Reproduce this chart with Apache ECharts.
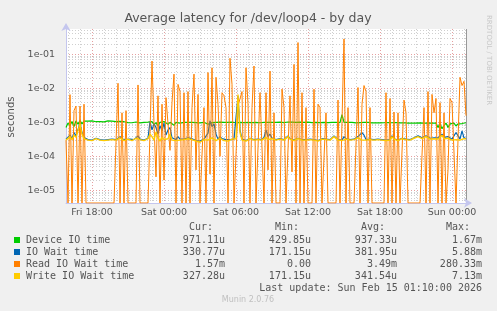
<!DOCTYPE html>
<html><head><meta charset="utf-8">
<script src="https://cdn.jsdelivr.net/npm/echarts@6/dist/echarts.min.js"></script>
<style>html,body{margin:0;padding:0;background:#f0f0f0;}#c{width:497px;height:311px;}</style>
</head><body><div id="c"></div>
<script>
// time axis: hours since Fri 00:00
const startHour = 15 + 50/60;   // Fri 15:50
const stepHours = 10/60;        // 10-minute samples
const endHour = 49 + 10/60;     // Sun 01:10
const majorHours = [18, 24, 30, 36, 42, 48];
const timeLabels = ['Fri 18:00', 'Sat 00:00', 'Sat 06:00', 'Sat 12:00', 'Sat 18:00', 'Sun 00:00'];
const yDecades = [-5, -4, -3, -2, -1];
const yTickLabels = ['1e-05', '1e-04', '1e-03', '1e-02', '1e-01'];
const yMinLog = -5.37, yMaxLog = -0.26;

// values in microseconds
const deviceUs = [
 700,950,800,1050,750,1100,880,1120,900,1080,
 1050,1080,1020,1100,1060,1040,1090,1050,1070,1030,
 1060,1100,1040,1080,1150,1050,1020,1060,1000,1040,
 1010,980,1000,970,990,1020,980,960,1000,990,
 980,1010,900,1050,850,980,800,1000,900,1050,
 950,870,1000,960,820,1000,980,950,1010,990,
 980,1000,970,990,1010,980,1000,960,990,1000,
 1010,880,1000,980,950,1000,990,1010,970,1000,
 990,1000,980,1010,990,970,1030,1000,990,980,
 1000,990,1010,980,1000,990,1000,970,1010,990,
 980,1000,1010,990,970,1000,990,1010,1000,980,
 1000,1020,990,1010,1100,1000,980,1010,990,1000,
 990,1010,1000,980,1000,990,1010,980,1000,990,
 1000,980,1000,990,1010,1000,1050,980,1670,1000,
 990,1000,980,1000,990,960,1000,980,950,990,
 970,990,980,960,990,970,980,960,990,970,
 960,980,950,970,960,980,940,960,950,970,
 960,950,970,940,960,950,940,960,950,940,
 930,950,900,940,920,950,700,900,650,800,
 950,700,900,850,950,780,900,960,920,900,
 971
];
const ioWaitUs = [
 320,360,420,330,500,400,360,950,500,360,
 330,310,320,300,310,340,330,310,320,300,
 290,310,330,320,300,310,340,380,320,300,
 310,330,320,300,310,350,400,320,310,300,
 320,340,1050,600,900,700,450,800,560,950,
 420,600,700,350,400,310,380,320,300,320,
 310,350,400,330,300,290,310,280,300,320,
 330,480,1100,750,900,450,320,380,330,300,
 310,290,310,340,320,350,5880,600,320,300,
 290,310,340,320,310,300,320,340,310,360,
 600,380,450,340,320,310,300,330,320,310,
 340,400,330,310,300,320,340,330,310,300,
 310,330,320,300,310,320,290,310,330,310,
 320,300,310,330,400,350,310,320,300,380,
 330,320,310,300,320,340,380,340,500,420,
 310,300,320,330,310,300,320,340,310,320,
 300,280,310,400,330,310,300,320,340,310,
 320,300,310,330,350,380,400,370,350,380,
 400,360,340,320,350,380,350,320,450,360,
 330,380,350,320,360,500,450,320,560,350,
 331
];
const readUs = [
 300,0,6500,0,2200,3000,0,3000,0,3400,
 0,0,0,0,0,0,0,0,0,0,
 0,0,0,0,0,0,14000,0,1900,0,
 2200,0,0,0,0,0,12500,0,0,0,
 0,0,0,63000,900,25,6000,0,3400,20,
 5300,4800,150,3800,26000,0,13000,8000,0,7400,
 0,8000,0,2700,26000,40,6600,0,0,2700,
 0,29000,30,40000,0,21000,3400,100,7400,6000,
 2700,0,76000,13000,0,0,3000,2700,8000,0,
 40000,3400,0,2700,45000,0,0,7400,6600,0,
 7400,40,32000,0,1900,0,0,0,9400,2700,
 0,0,6000,35,50000,0,220000,0,7400,0,
 2700,0,0,0,9400,0,3400,2700,0,0,
 1900,0,0,0,0,0,4500,0,0,280330,
 0,2700,0,0,0,0,10500,0,3400,12000,
 8000,0,2700,0,0,0,0,0,0,0,
 7400,0,5000,0,2000,0,1900,0,0,4500,
 1900,0,0,0,0,0,0,0,0,2700,
 0,8000,0,6600,1900,5000,0,3800,0,1900,
 0,40,5000,3800,3400,0,0,21000,12000,16000,
 1570
];
const writeUs = [
 300,340,380,310,420,360,330,900,450,330,
 320,300,310,290,300,330,320,300,310,290,
 280,300,320,310,290,300,330,350,310,290,
 300,320,310,290,300,340,360,310,300,290,
 310,330,450,380,300,520,340,280,360,310,
 290,330,450,300,310,290,320,300,290,310,
 300,330,360,310,290,280,300,260,290,310,
 320,300,330,350,310,290,300,340,310,290,
 300,280,300,320,300,330,6500,500,300,290,
 280,300,330,310,300,290,310,320,300,340,
 360,310,300,330,310,300,290,320,310,300,
 330,380,320,300,290,310,330,320,300,290,
 300,320,310,290,300,310,280,300,320,300,
 310,290,300,320,380,340,300,310,290,300,
 320,310,300,290,310,330,350,320,300,310,
 300,290,310,320,300,290,310,330,300,310,
 290,270,300,380,320,300,290,310,330,300,
 310,290,300,320,340,360,380,350,330,360,
 380,340,320,300,330,350,320,300,420,330,
 310,340,320,300,330,310,340,300,320,330,
 327
];
const seriesNames = ['Device IO time', 'IO Wait time', 'Read IO Wait time', 'Write IO Wait time'];
const seriesColors = ['#00cc00', '#0066b3', '#ff8000', '#ffcc00'];
const legendCur = ['971.11u', '330.77u', '1.57m', '327.28u'];
const legendMin = ['429.85u', '171.15u', '0.00', '171.15u'];
const legendAvg = ['937.33u', '381.95u', '3.49m', '341.54u'];
const legendMax = ['1.67m', '5.88m', '280.33m', '7.13m'];

const minorHours = [];
for (let h = 16; h <= 49; h++) if (majorHours.indexOf(h) < 0) minorHours.push(h);
const minorLogs = [];
for (let d = -6; d <= -1; d++) for (let k = 2; k <= 9; k++) {
  const v = d + Math.log10(k);
  if (v > yMinLog && v < yMaxLog) minorLogs.push(v);
}
function toPts(arr) {
  return arr.map((v, i) => [startHour + i * stepHours, v > 0 ? Math.log10(v * 1e-6) : yMinLog]);
}
const allData = [deviceUs, ioWaitUs, readUs, writeUs];
const lineWidths = [1.2, 1.2, 1, 1.4];

const FONT = 'DejaVu Sans';
const gridColorMinor = '#cfcfcf';
const gridColorMajor = '#e6a0a0';
const axisColor = '#c4c6ee';

const graphics = [];
graphics.push({type:'text', x:248, y:19, style:{text:'Average latency for /dev/loop4 - by day', font:'12.5px "DejaVu Sans"', fill:'#555', align:'center', verticalAlign:'middle'}});
graphics.push({type:'text', x:11, y:117, rotation:Math.PI/2, style:{text:'seconds', font:'10px "DejaVu Sans"', fill:'#555', align:'center', verticalAlign:'middle'}});
graphics.push({type:'text', x:489, y:15, rotation:-Math.PI/2, style:{text:'RRDTOOL / TOBI OETIKER', font:'7px "DejaVu Sans"', fill:'#c8c8c8', align:'left', verticalAlign:'middle'}});
graphics.push({type:'line', shape:{x1:466.5, y1:29, x2:466.5, y2:203}, style:{stroke:'#999', lineWidth:1}, z:-1});
const colX = [225, 311, 397, 482];
const headers = ['Cur:', 'Min:', 'Avg:', 'Max:'];
headers.forEach((h, j) => graphics.push({type:'text', x:colX[j] - 12, y:227, style:{text:h, font:'10px "DejaVu Sans Mono"', fill:'#555', align:'right', verticalAlign:'middle'}}));
const rowY = [240, 252, 264, 276];
seriesNames.forEach((n, r) => {
  graphics.push({type:'rect', shape:{x:14, y:rowY[r]-3, width:6, height:6}, style:{fill:seriesColors[r]}});
  graphics.push({type:'text', x:26, y:rowY[r], style:{text:n, font:'10px "DejaVu Sans Mono"', fill:'#555', align:'left', verticalAlign:'middle'}});
  [legendCur, legendMin, legendAvg, legendMax].forEach((col, j) => {
    graphics.push({type:'text', x:colX[j], y:rowY[r], style:{text:col[r], font:'10px "DejaVu Sans Mono"', fill:'#555', align:'right', verticalAlign:'middle'}});
  });
});
graphics.push({type:'text', x:482, y:288, style:{text:'Last update: Sun Feb 15 01:10:00 2026', font:'10px "DejaVu Sans Mono"', fill:'#555', align:'right', verticalAlign:'middle'}});
graphics.push({type:'text', x:248, y:300, style:{text:'Munin 2.0.76', font:'8px "DejaVu Sans"', fill:'#c0c0c0', align:'center', verticalAlign:'middle'}});

const option = {
  backgroundColor: '#f0f0f0',
  animation: false,
  grid: {left:66, right:31, top:29, bottom:108, show:true, backgroundColor:'#ffffff', borderWidth:0},
  xAxis: [
    {type:'value', min:startHour, max:endHour, position:'bottom', axisLine:{show:false}, axisLabel:{show:false},
     axisTick:{show:false, customValues:minorHours},
     splitLine:{show:true, lineStyle:{color:gridColorMinor, type:[1,2], width:1}}},
    {type:'value', min:startHour, max:endHour, position:'bottom',
     axisLine:{show:true, onZero:false, lineStyle:{color:axisColor, width:1}, symbol:['none','arrow'], symbolSize:[7,8], symbolOffset:[0,6]},
     axisTick:{show:false, customValues:majorHours},
     axisLabel:{customValues:majorHours, margin:5, color:'#555', fontFamily:FONT, fontSize:9.5,
       formatter:(v) => { const k = majorHours.indexOf(Math.round(v)); return k >= 0 ? timeLabels[k] : ''; }},
     splitLine:{show:true, lineStyle:{color:gridColorMajor, type:[1,2], width:1}}}
  ],
  yAxis: [
    {type:'value', min:yMinLog, max:yMaxLog, position:'left', axisLine:{show:false}, axisLabel:{show:false},
     axisTick:{show:false, customValues:minorLogs},
     splitLine:{show:true, lineStyle:{color:gridColorMinor, type:[1,2], width:1}}},
    {type:'value', min:yMinLog, max:yMaxLog, position:'left',
     axisLine:{show:true, onZero:false, lineStyle:{color:axisColor, width:1}, symbol:['none','arrow'], symbolSize:[7,8], symbolOffset:[0,6]},
     axisTick:{show:false, customValues:yDecades},
     axisLabel:{customValues:yDecades, margin:11, color:'#555', fontFamily:FONT, fontSize:9.5,
       formatter:(v) => { const k = yDecades.indexOf(Math.round(v)); return k >= 0 ? yTickLabels[k] : ''; }},
     splitLine:{show:true, lineStyle:{color:gridColorMajor, type:[1,2], width:1}}}
  ],
  series: allData.map((arr, k) => ({
    name: seriesNames[k], type:'line', xAxisIndex:1, yAxisIndex:1,
    data: toPts(arr), showSymbol:false, symbol:'none', clip:true,
    lineStyle:{color:seriesColors[k], width:lineWidths[k]}, itemStyle:{color:seriesColors[k]}
  })),
  graphic: graphics
};
const chart = echarts.init(document.getElementById('c'), null, {renderer:'canvas'});
chart.setOption(option);
</script>
</body></html>
